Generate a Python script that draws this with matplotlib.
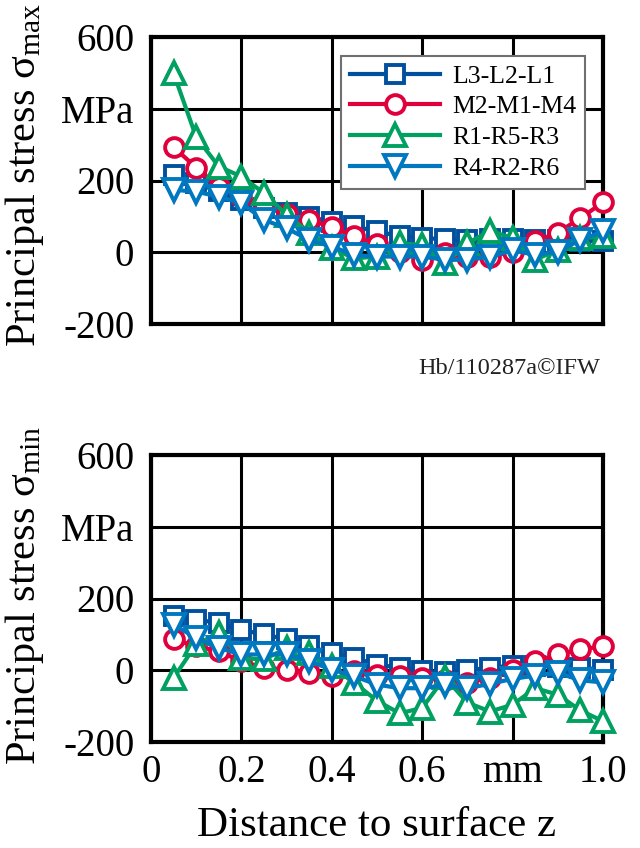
import numpy as np
import matplotlib
matplotlib.use("Agg")
import matplotlib.pyplot as plt

plt.rcParams['font.family'] = ['Liberation Serif', 'DejaVu Serif']
plt.rcParams['mathtext.fontset'] = 'custom'
plt.rcParams['mathtext.rm'] = 'Liberation Serif'
plt.rcParams['mathtext.it'] = 'Liberation Serif:italic'

z = [0.05, 0.10, 0.15, 0.20, 0.25, 0.30, 0.35, 0.40, 0.45, 0.50,
     0.55, 0.60, 0.65, 0.70, 0.75, 0.80, 0.85, 0.90, 0.95, 1.00]

labels = ["L3-L2-L1", "M2-M1-M4", "R1-R5-R3", "R4-R2-R6"]

# sigma max (top)
max_L = [215, 192, 170, 145, 122, 110, 98, 85, 72, 58, 45, 40, 36, 34, 36, 36, 35, 34, 32, 30]
max_M = [293, 236, 183, 155, 132, 107, 90, 70, 44, 23, 2, -21, -3, -12, -12, 2, 30, 55, 95, 139]
max_R1 = [499, 321, 239, 211, 165, 104, 55, 11, -17, -12, 25, 20, -31, 25, 60, 39, -21, 7, 39, 44]
max_R4 = [174, 169, 155, 137, 90, 67, 34, 16, -8, -12, -12, -12, -21, -21, -12, 5, -7, 2, 34, 58]

# sigma min (bottom)
min_L = [151, 141, 132, 112, 100, 86, 67, 47, 34, 16, 7, -3, -6, 0, 7, 13, 13, 10, 7, 2]
min_M = [86, 67, 53, 25, 7, 2, -7, -17, -3, -12, -17, -21, -26, -35, -21, 2, 25, 44, 58, 67]
min_R1 = [-21, 72, 104, 34, 30, 62, 48, 11, -35, -85, -120, -105, -20, -90, -115, -96, -50, -68, -112, -142]
min_R4 = [127, 90, 62, 44, 44, 44, 25, 2, -17, -40, -50, -50, -42, -50, -38, -24, -15, -7, -28, -34]

colors = ["#00509E", "#E0003C", "#00A060", "#0078C0"]
markers = ["s", "o", "^", "v"]
msizes = [12.5, 13.5, 16, 16]

fig = plt.figure(figsize=(6.4, 8.48), dpi=100)
W, H = 640.0, 848.0

def make_ax(top_px, bottom_px):
    left, right = 151, 603
    return fig.add_axes([left / W, 1 - bottom_px / H, (right - left) / W, (bottom_px - top_px) / H])

ax1 = make_ax(37, 324)
ax2 = make_ax(455, 742)

def style(ax, show_x):
    ax.set_xlim(0, 1.0)
    ax.set_ylim(-200, 600)
    ax.set_xticks([0, 0.2, 0.4, 0.6, 0.8, 1.0])
    ax.set_yticks([-200, 0, 200, 400, 600])
    ax.set_yticklabels(["-200", "0", "200", "MPa", "600"])
    if show_x:
        ax.set_xticklabels(["0", "0.2", "0.4", "0.6", "mm", "1.0"])
    else:
        ax.set_xticklabels([])
    ax.tick_params(axis='both', length=0, labelsize=28)
    ax.tick_params(axis='y', pad=12)
    ax.tick_params(axis='x', pad=9)
    for s in ax.spines.values():
        s.set_linewidth(3.0)
        s.set_color('black')
    ax.grid(True, color='black', linewidth=2.2)
    ax.set_axisbelow(True)

series_top = [max_L, max_M, max_R1, max_R4]
series_bot = [min_L, min_M, min_R1, min_R4]

for ax, ser in [(ax1, series_top), (ax2, series_bot)]:
    style(ax, ax is ax2)
    for y, c, m, ms, lab in zip(ser, colors, markers, msizes, labels):
        ax.plot(z, y, color=c, marker=m, markersize=ms, markerfacecolor='white',
                markeredgecolor=c, markeredgewidth=2.8, linewidth=3.0, label=lab,
                clip_on=False, zorder=3)

leg = ax1.legend(loc='upper right', bbox_to_anchor=(0.96, 0.935), fontsize=18.5,
                 frameon=True, fancybox=False, edgecolor='#707070', framealpha=1,
                 handlelength=3.5, labelspacing=0.3, borderpad=0.35,
                 handletextpad=0.45, borderaxespad=0)
leg.get_frame().set_linewidth(1.5)

ax1.set_ylabel(r"Principal stress σ$_{\mathrm{max}}$", fontsize=30.5)
ax1.yaxis.set_label_coords(-0.232, 0.52)
ax2.set_ylabel(r"Principal stress σ$_{\mathrm{min}}$", fontsize=30.5)
ax2.yaxis.set_label_coords(-0.232, 0.51)
ax2.set_xlabel("Distance to surface z", fontsize=31, labelpad=11)

fig.text(600 / W, 1 - 368 / H, "Hb/110287a©IFW", fontsize=17.5, ha='right', va='center',
         color='#222222')

fig.savefig("out.png", dpi=100)
